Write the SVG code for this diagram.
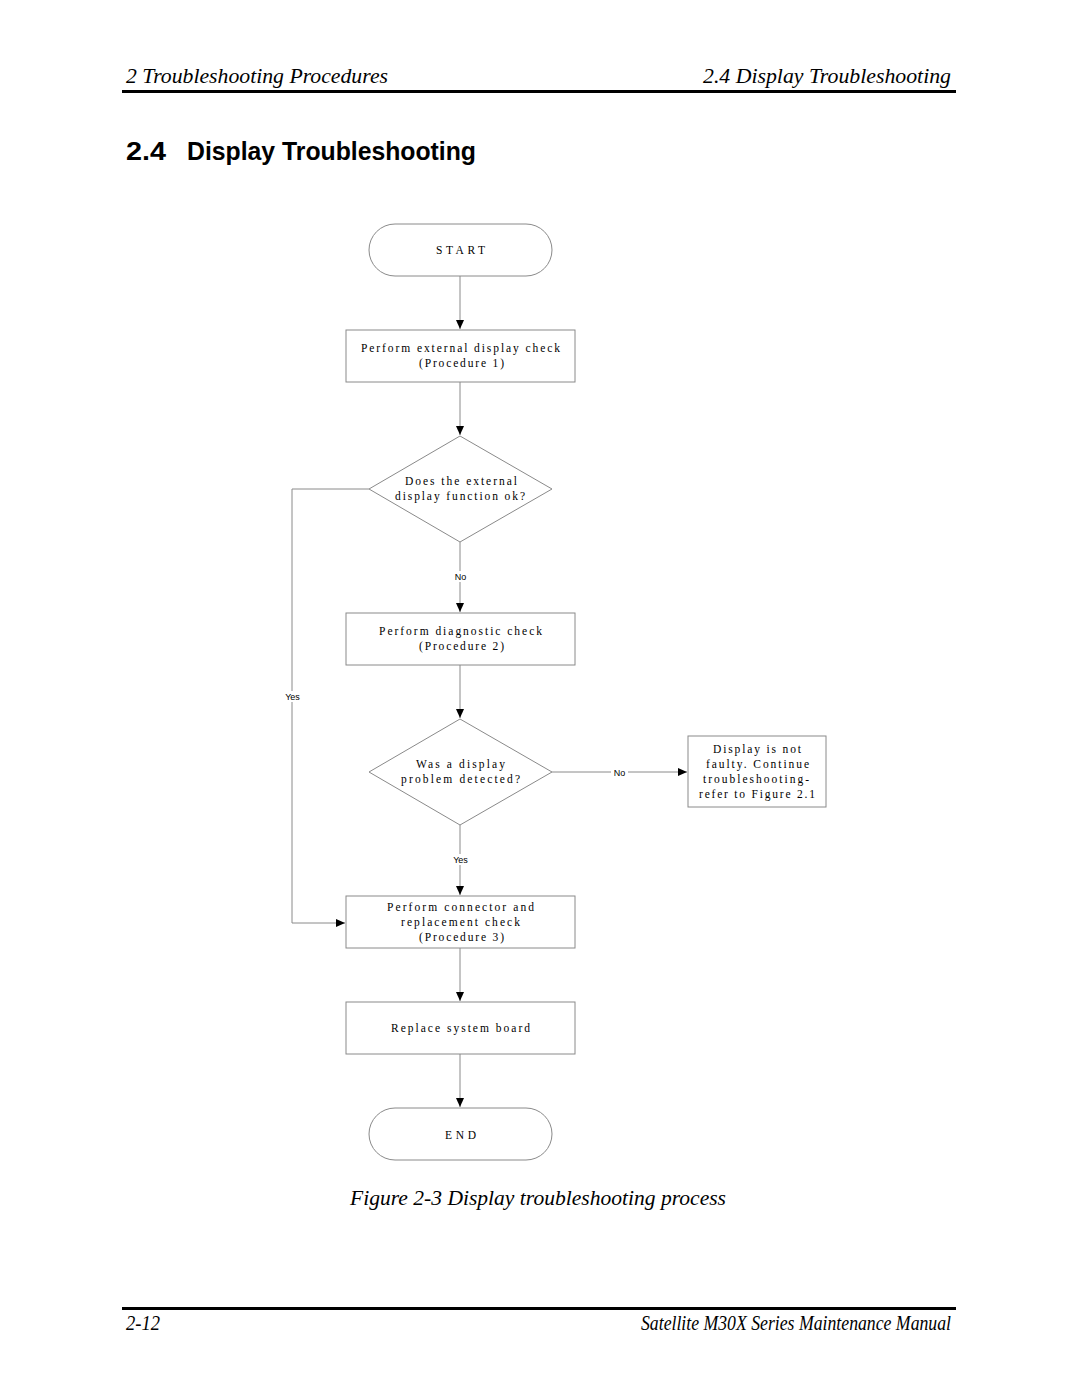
<svg xmlns="http://www.w3.org/2000/svg" width="1080" height="1397" viewBox="0 0 1080 1397">
<style>
.hdr{font-family:"Liberation Serif","Times New Roman",serif;font-style:italic;font-size:21px;fill:#000}
.ttl{font-family:"Liberation Sans",Arial,sans-serif;font-weight:bold;font-size:25px;fill:#000}
.ft{font-family:"Liberation Serif","Times New Roman",serif;font-size:11.5px;fill:#000;text-anchor:middle}
.lb{font-family:"Liberation Sans",Arial,sans-serif;font-size:9px;fill:#000;text-anchor:middle}
.shape{fill:#fff;stroke:#8a8a8a;stroke-width:1}
.conn{fill:none;stroke:#8a8a8a;stroke-width:1}
.bg{fill:#fff}
</style>
<defs>
<marker id="ah" markerWidth="10" markerHeight="10" refX="9" refY="5" orient="auto" markerUnits="userSpaceOnUse">
<path d="M0,1 L9,5 L0,9 Z" fill="#000"/>
</marker>
</defs>
<rect width="1080" height="1397" fill="#fff"/>
<!-- header -->
<text class="hdr" x="126" y="83" textLength="262" lengthAdjust="spacingAndGlyphs">2  Troubleshooting Procedures</text>
<text class="hdr" x="703" y="83" textLength="248" lengthAdjust="spacingAndGlyphs">2.4  Display Troubleshooting</text>
<rect x="122" y="90" width="834" height="3" fill="#000"/>
<text class="ttl" x="126" y="160" textLength="40" lengthAdjust="spacingAndGlyphs">2.4</text>
<text class="ttl" x="187" y="160" textLength="289" lengthAdjust="spacingAndGlyphs">Display Troubleshooting</text>

<g id="connectors">
<path class="conn" d="M460,276 V329" marker-end="url(#ah)"/>
<path class="conn" d="M460,382 V435" marker-end="url(#ah)"/>
<path class="conn" d="M460,542 V612" marker-end="url(#ah)"/>
<path class="conn" d="M460,665 V718" marker-end="url(#ah)"/>
<path class="conn" d="M552,772 H687" marker-end="url(#ah)"/>
<path class="conn" d="M460,825 V895" marker-end="url(#ah)"/>
<path class="conn" d="M369,489 H292 V923 H345" marker-end="url(#ah)"/>
<path class="conn" d="M460,948 V1001" marker-end="url(#ah)"/>
<path class="conn" d="M460,1054 V1107" marker-end="url(#ah)"/>
<rect class="bg" x="452" y="571" width="17" height="11"/>
<text class="lb" x="460.5" y="580">No</text>
<rect class="bg" x="611" y="767" width="17" height="11"/>
<text class="lb" x="619.5" y="776">No</text>
<rect class="bg" x="282" y="691" width="21" height="11"/>
<text class="lb" x="292.5" y="700">Yes</text>
<rect class="bg" x="450" y="854" width="21" height="11"/>
<text class="lb" x="460.5" y="863">Yes</text>
</g>

<g id="start">
<rect class="shape" x="369" y="224" width="183" height="52" rx="26" ry="26"/>
<text class="ft" x="460.5" y="254" textLength="49" lengthAdjust="spacing">START</text>
</g>
<g id="proc1">
<rect class="shape" x="346" y="330" width="229" height="52"/>
<text class="ft" x="460.5" y="352" textLength="199" lengthAdjust="spacing">Perform external display check</text>
<text class="ft" x="461.5" y="367" textLength="85" lengthAdjust="spacing">(Procedure 1)</text>
</g>
<g id="dec1">
<polygon class="shape" points="460,436 552,489 460,542 369,489"/>
<text class="ft" x="461" y="485" textLength="112" lengthAdjust="spacing">Does the external</text>
<text class="ft" x="460" y="500" textLength="130" lengthAdjust="spacing">display function ok?</text>
</g>
<g id="proc2">
<rect class="shape" x="346" y="613" width="229" height="52"/>
<text class="ft" x="460.5" y="635" textLength="163" lengthAdjust="spacing">Perform diagnostic check</text>
<text class="ft" x="461.5" y="650" textLength="85" lengthAdjust="spacing">(Procedure 2)</text>
</g>
<g id="dec2">
<polygon class="shape" points="460,719 552,772 460,825 369,772"/>
<text class="ft" x="460.5" y="768" textLength="89" lengthAdjust="spacing">Was a display</text>
<text class="ft" x="460.5" y="783" textLength="119" lengthAdjust="spacing">problem detected?</text>
</g>
<g id="notfaulty">
<rect class="shape" x="688" y="736" width="138" height="71"/>
<text class="ft" x="757" y="753" textLength="88" lengthAdjust="spacing">Display is not</text>
<text class="ft" x="757.5" y="768" textLength="103" lengthAdjust="spacing">faulty. Continue</text>
<text class="ft" x="756" y="783" textLength="106" lengthAdjust="spacing">troubleshooting-</text>
<text class="ft" x="757" y="798" textLength="116" lengthAdjust="spacing">refer to Figure 2.1</text>
</g>
<g id="proc3">
<rect class="shape" x="346" y="896" width="229" height="52"/>
<text class="ft" x="460.5" y="911" textLength="147" lengthAdjust="spacing">Perform connector and</text>
<text class="ft" x="460.5" y="926" textLength="119" lengthAdjust="spacing">replacement check</text>
<text class="ft" x="461.5" y="941" textLength="85" lengthAdjust="spacing">(Procedure 3)</text>
</g>
<g id="replace">
<rect class="shape" x="346" y="1002" width="229" height="52"/>
<text class="ft" x="460.5" y="1032" textLength="139" lengthAdjust="spacing">Replace system board</text>
</g>
<g id="end">
<rect class="shape" x="369" y="1108" width="183" height="52" rx="26" ry="26"/>
<text class="ft" x="460.5" y="1139" textLength="31" lengthAdjust="spacing">END</text>
</g>

<text class="hdr" x="350" y="1205" textLength="376" lengthAdjust="spacingAndGlyphs">Figure 2-3  Display troubleshooting process</text>
<rect x="122" y="1307" width="834" height="3" fill="#000"/>
<text class="hdr" x="126" y="1330" textLength="34" lengthAdjust="spacingAndGlyphs">2-12</text>
<text class="hdr" x="641" y="1330" textLength="310" lengthAdjust="spacingAndGlyphs">Satellite M30X Series Maintenance Manual</text>
</svg>
